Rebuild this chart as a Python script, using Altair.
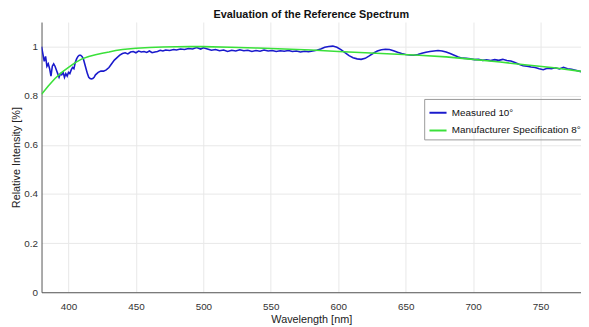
import altair as alt
import pandas as pd

blue_wl = [380, 381, 382, 383, 384, 385, 386, 387, 388, 389, 390, 391, 392, 393, 394, 395, 396, 397, 398, 399,
           400, 401, 402, 403, 404, 405, 406, 407, 408, 409, 410, 411, 412, 413, 414, 415, 416, 417, 418, 419,
           420, 422, 424, 426, 428, 430, 432, 434, 436, 438, 440, 442, 444, 446, 448, 450, 452, 454, 456, 458,
           460, 462, 464, 466, 468, 470, 472, 475, 478, 480, 483, 486, 489, 492, 495, 498, 500, 503, 506, 509,
           512, 515, 518, 521, 524, 527, 530, 533, 536, 539, 542, 545, 548, 551, 554, 557, 560, 563, 566, 569,
           572, 575, 578, 581, 584, 587, 590, 593, 596, 599, 602, 605, 608, 611, 614, 617, 620, 623, 626, 629,
           632, 635, 638, 641, 644, 647, 650, 653, 656, 659, 662, 665, 668, 671, 674, 677, 680, 683, 686, 689,
           692, 695, 698, 701, 704, 707, 710, 713, 716, 719, 722, 725, 728, 731, 734, 737, 740, 743, 746, 749,
           752, 755, 758, 761, 764, 767, 770, 773, 776, 780]
blue_val = [1.00, 0.97, 0.94, 0.96, 0.92, 0.93, 0.91, 0.88, 0.92, 0.93, 0.92, 0.905, 0.89, 0.875, 0.89, 0.885, 0.895, 0.875, 0.89, 0.88,
            0.895, 0.89, 0.905, 0.915, 0.91, 0.935, 0.95, 0.96, 0.965, 0.965, 0.96, 0.95, 0.93, 0.91, 0.89, 0.875, 0.87, 0.868, 0.87, 0.875,
            0.885, 0.895, 0.90, 0.90, 0.905, 0.915, 0.93, 0.945, 0.955, 0.965, 0.972, 0.975, 0.97, 0.978, 0.98, 0.975, 0.982, 0.978, 0.98, 0.976,
            0.982, 0.975, 0.978, 0.98, 0.985, 0.982, 0.986, 0.984, 0.988, 0.986, 0.99, 0.988, 0.992, 0.99, 0.996, 0.99, 0.995, 0.99, 0.985, 0.988,
            0.983, 0.986, 0.98, 0.985, 0.982, 0.987, 0.983, 0.985, 0.98, 0.984, 0.981, 0.986, 0.982, 0.984, 0.98, 0.983, 0.981, 0.984, 0.98, 0.982,
            0.978, 0.981, 0.979, 0.982, 0.985, 0.99, 0.997, 1.0, 1.002, 0.997, 0.988, 0.975, 0.963, 0.955, 0.95, 0.948, 0.952, 0.962, 0.973, 0.982,
            0.987, 0.989, 0.988, 0.983, 0.977, 0.972, 0.968, 0.966, 0.965, 0.968, 0.973, 0.977, 0.98, 0.982, 0.984, 0.982, 0.978, 0.972, 0.965, 0.958,
            0.953, 0.952, 0.95, 0.947, 0.948, 0.944, 0.946, 0.943, 0.947, 0.944, 0.948, 0.943, 0.941, 0.935, 0.928, 0.922, 0.92, 0.917, 0.915, 0.91,
            0.906, 0.912, 0.91, 0.914, 0.909, 0.916, 0.91, 0.908, 0.904, 0.898]

green_wl = [380, 385, 390, 395, 400, 405, 410, 415, 420, 425, 430, 435, 440, 450, 460, 470, 480, 490, 500,
            520, 540, 560, 580, 600, 620, 640, 660, 680, 700, 720, 740, 760, 780]
green_val = [0.806, 0.84, 0.87, 0.895, 0.915, 0.935, 0.95, 0.96, 0.967, 0.973, 0.978, 0.984, 0.988, 0.993, 0.996, 0.998, 0.999, 1.0, 1.0,
             0.997, 0.994, 0.99, 0.986, 0.98, 0.975, 0.97, 0.965, 0.958, 0.948, 0.937, 0.925, 0.914, 0.899]

series_names = ["Measured 10°", "Manufacturer Specification 8°"]
series_colors = ["#1a1acc", "#3ae03a"]
x_ticks = [400, 450, 500, 550, 600, 650, 700, 750]
y_ticks = [0, 0.2, 0.4, 0.6, 0.8, 1.0]

df = pd.concat([
    pd.DataFrame({"wl": blue_wl, "val": blue_val, "series": series_names[0], "order": 0}),
    pd.DataFrame({"wl": green_wl, "val": green_val, "series": series_names[1], "order": 1}),
])

FONT = "Liberation Sans"

chart = alt.Chart(df).mark_line(clip=True, strokeWidth=1.6).encode(
    x=alt.X("wl:Q", scale=alt.Scale(domain=[380, 780], nice=False, zero=False),
            axis=alt.Axis(values=x_ticks, title="Wavelength [nm]", ticks=False, labelPadding=10,
                          titlePadding=2)),
    y=alt.Y("val:Q", scale=alt.Scale(domain=[0, 1.1], nice=False),
            axis=alt.Axis(values=y_ticks, format="~g", title="Relative Intensity [%]", ticks=False,
                          labelPadding=4, titlePadding=2)),
    color=alt.Color("series:N", scale=alt.Scale(domain=series_names, range=series_colors),
                    legend=alt.Legend(title=None, orient="none", legendX=388, legendY=78,
                                      symbolType="stroke", symbolStrokeWidth=2, symbolSize=300,
                                      labelFontSize=10, labelFont=FONT, labelColor="#111",
                                      strokeColor="#999", padding=4, rowPadding=3,
                                      labelLimit=300)),
    order="order:Q",
    detail="series:N",
).properties(
    width=547, height=274,
    title=alt.TitleParams("Evaluation of the Reference Spectrum", fontSize=11, fontWeight="bold",
                          font=FONT, color="#111", offset=2),
    autosize=alt.AutoSizeParams(type="none"),
    padding={"left": 34, "top": 12, "right": 0, "bottom": 32},
).configure_view(stroke=None).configure_axis(
    gridColor="#e8e8e8", domainColor="#555", labelColor="#333", labelFont=FONT, labelFontSize=10,
    titleFont=FONT, titleFontSize=11, titleFontWeight="normal", titleColor="#222"
)

chart.save("out.html", embed_options={"renderer": "svg", "actions": False})
